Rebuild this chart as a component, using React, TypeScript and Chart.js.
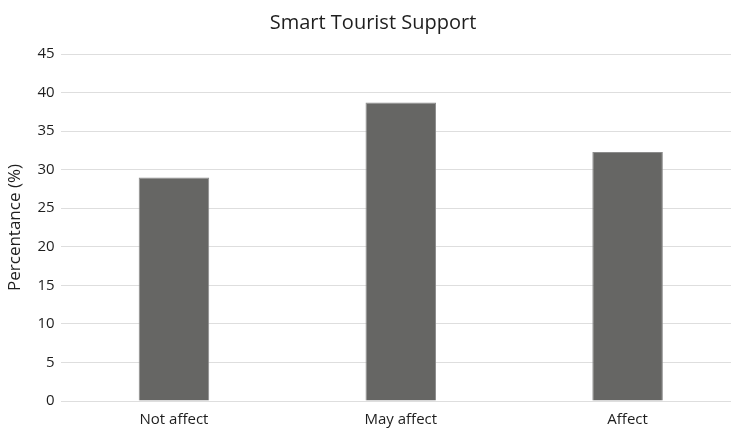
import React, { useEffect, useRef } from "react";
import { Chart, registerables } from "chart.js";

Chart.register(...registerables);

const categories = ["Not affect", "May affect", "Affect"];
const percentages = [29.0, 38.7, 32.3];
const yTicks = [0, 5, 10, 15, 20, 25, 30, 35, 40, 45];

const FONT = "'Open Sans', 'Liberation Sans', sans-serif";

export default function App() {
  const canvasRef = useRef<HTMLCanvasElement | null>(null);

  useEffect(() => {
    const canvas = canvasRef.current;
    if (!canvas) return;
    const chart = new Chart(canvas, {
      type: "bar",
      data: {
        labels: categories,
        datasets: [
          {
            label: "Percentance (%)",
            data: percentages,
            backgroundColor: "#666664",
            borderColor: "#8c8c8c",
            borderWidth: 1,
            barPercentage: 1,
            categoryPercentage: 0.311,
          },
        ],
      },
      options: {
        responsive: false,
        animation: false,
        maintainAspectRatio: false,
        layout: { padding: { left: 5, right: 0, top: 9, bottom: 0 } },
        plugins: {
          legend: { display: false },
          tooltip: { enabled: false },
          title: {
            display: true,
            text: "Smart Tourist Support",
            color: "#1e1e1e",
            font: { family: FONT, size: 20, weight: "normal" },
            padding: { top: 2, bottom: 19 },
          },
        },
        scales: {
          x: {
            grid: { display: false },
            border: { display: false },
            ticks: {
              color: "#1e1e1e",
              font: { family: FONT, size: 15 },
              padding: 2,
            },
          },
          y: {
            min: 0,
            max: 45,
            afterBuildTicks: (axis: any) => {
              axis.ticks = yTicks.map((v) => ({ value: v }));
            },
            grid: { color: "#dedede", lineWidth: 1, drawTicks: false },
            border: { display: false },
            ticks: {
              color: "#1e1e1e",
              font: { family: FONT, size: 15 },
              padding: 6,
            },
            title: {
              display: true,
              text: "Percentance (%)",
              color: "#1e1e1e",
              font: { family: FONT, size: 17 },
              padding: { top: 0, bottom: 6 },
            },
          },
        },
      },
    });
    return () => chart.destroy();
  }, []);

  return (
    <div
      style={{
        position: "fixed",
        left: 0,
        top: 0,
        width: 731,
        height: 431,
        overflow: "hidden",
        background: "#ffffff",
      }}
    >
      <canvas ref={canvasRef} width={741} height={431} style={{ display: "block" }} />
    </div>
  );
}
